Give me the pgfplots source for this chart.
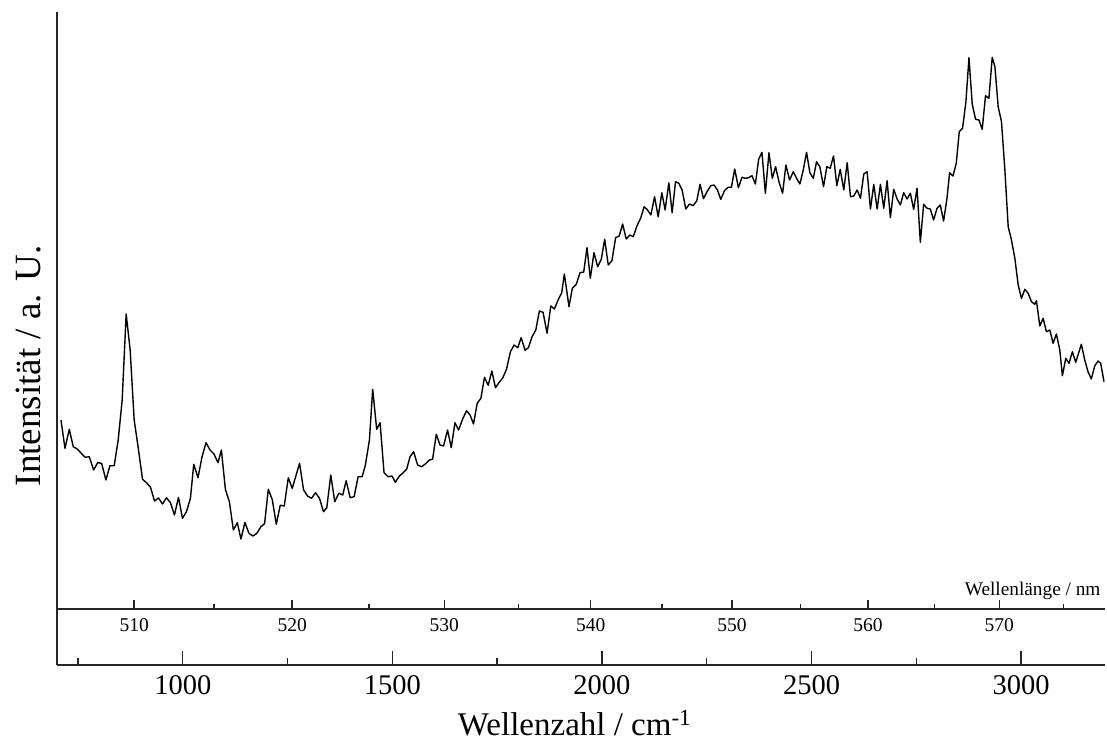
\documentclass[border=0pt]{standalone}
\usepackage{pgfplots}
\pgfplotsset{compat=1.18}
\usepackage{pgfplotstable}
\usepackage{fontspec}
\setmainfont{Liberation Serif}
\pgfplotstableread{
x y
709.5 245
719.0 216.7
729.3 235.7
738.8 218.3
748.3 216
757.9 211.7
767.4 207.7
776.9 208.3
787.4 195
796.9 202.3
806.4 201.7
816.7 185
826.2 199.3
836.4 199.3
846.0 225
855.5 265
865.0 351
874.5 315
884.1 245
894.5 215
904.0 185.7
913.6 182.3
923.1 177.7
932.6 164
942.1 167
951.7 161
961.2 167.3
970.7 162.3
980.2 150
989.8 167.7
999.3 146.7
1008.8 153.3
1018.3 166.7
1026.2 200.7
1036.4 187.3
1046.0 208.3
1055.5 222.3
1065.0 215
1074.5 211
1084.1 202.3
1092.1 215
1101.7 175.7
1111.2 163.3
1120.7 135
1130.2 142.3
1138.8 126
1148.3 142.5
1157.9 131.7
1167.4 129
1176.9 131.7
1186.4 138.3
1195.2 141.3
1204.1 175.8
1213.6 165.3
1223.1 140.8
1232.6 159.8
1242.1 159
1251.7 187.2
1261.2 176.7
1269.8 189
1278.6 201.7
1288.1 175.3
1297.6 169
1307.2 166.7
1316.7 172.3
1326.2 166.7
1335.7 153.3
1343.6 157.3
1353.1 190
1362.6 163.3
1372.2 171.7
1381.7 170
1389.8 184.3
1399.3 167.3
1408.8 168.3
1418.3 188.3
1427.9 188.3
1435.7 200
1445.3 225
1453.1 275.7
1462.6 235.7
1470.7 242.3
1480.2 192.3
1489.8 188.3
1499.3 189
1507.1 182.7
1516.7 189
1524.5 191.7
1534.1 195.7
1542.2 208.3
1550.7 213.3
1560.3 200
1569.8 198.3
1578.6 201
1588.1 205
1596.0 205.7
1604.8 230.7
1613.6 220
1622.2 219
1631.7 235
1640.5 217.3
1649.3 242.3
1657.9 235
1667.4 245.7
1676.9 254.3
1685.7 249.7
1693.6 241
1702.4 261.7
1711.2 266.7
1719.8 287.7
1728.6 279.7
1737.4 294
1746.0 277.3
1754.8 282.7
1763.6 287.3
1772.2 295.7
1781.7 313.3
1790.5 320
1799.3 317.3
1807.2 327.3
1816.7 314.7
1824.5 317.3
1833.3 328.3
1842.2 335
1850.7 354
1859.5 352.7
1869.1 331.7
1877.9 359
1886.5 356
1895.3 365
1904.1 372.3
1910.3 391
1921.4 358.3
1929.3 376.7
1938.8 380.7
1947.6 392.3
1956.5 393
1964.3 417.3
1972.2 386.7
1981.0 412.3
1989.8 398.3
1998.4 405.7
2006.5 425.7
2015.0 400
2023.8 404.3
2032.6 427.3
2041.2 429
2049.3 441
2057.9 426
2066.7 430
2074.6 428.3
2083.4 439
2092.2 446.7
2100.7 458.3
2108.8 455
2116.7 450
2125.5 468.3
2134.1 448.3
2142.9 472.3
2150.7 455
2159.6 482.3
2167.4 452.3
2175.5 483.3
2183.4 481.7
2191.2 475
2200.0 456
2208.8 461
2217.4 459.3
2226.2 464.3
2234.1 480.7
2242.2 466.3
2250.7 473.3
2259.5 479.3
2267.4 480
2275.5 475
2283.4 465.7
2292.2 474.3
2300.7 477.7
2308.8 477.7
2316.7 496
2325.5 477.3
2334.1 487.7
2342.2 486.7
2350.0 487.3
2357.9 489.3
2366.0 481
2373.8 505.7
2381.7 512.7
2389.8 471.7
2398.4 512.3
2406.4 486.7
2414.3 498.3
2422.2 483.3
2431.0 471.7
2438.8 500
2447.6 485
2456.5 493.3
2464.3 486.7
2472.2 481
2480.2 495
2488.1 512.7
2496.0 492.3
2504.1 486.7
2511.9 503.3
2519.8 498.3
2528.6 478.3
2536.5 498.3
2544.5 496.7
2552.4 509
2560.3 479.3
2568.4 495.7
2576.9 475
2585.0 502.3
2592.9 468.3
2600.7 469
2608.8 475
2616.7 466.7
2624.6 491
2632.6 493.3
2640.5 456
2648.4 480.7
2656.5 456
2664.3 480.7
2672.2 456.7
2680.2 484.3
2688.1 447.3
2696.0 475.7
2704.1 466
2711.9 460
2719.8 472.3
2727.9 466
2735.7 471.7
2743.6 455.7
2751.7 476.7
2759.5 422.7
2767.4 460.7
2775.5 456.7
2783.3 456
2791.2 445
2799.3 456.7
2807.1 460
2815.0 444
2823.1 466.7
2829.3 492.3
2837.4 489
2845.2 501.7
2852.4 533.3
2860.2 536.7
2868.3 563.3
2875.5 607.3
2883.3 561
2891.2 545.7
2899.3 545
2907.1 535.7
2915.0 569.3
2923.1 566.7
2931.0 607.7
2937.4 598.3
2945.2 558.3
2953.1 543.3
2961.2 495
2969.1 438.3
2976.9 425
2985.0 406.7
2992.9 380
3000.7 366.7
3008.8 375.7
3016.7 371.7
3024.6 363.3
3032.6 360.7
3036.5 364.3
3044.5 339
3052.4 346.7
3060.3 333.3
3068.4 335
3076.2 321.7
3084.1 331
3092.2 315
3098.4 289.3
3106.4 306.7
3114.3 301.7
3122.2 313.3
3130.2 302.7
3143.6 320.7
3151.7 305
3159.5 293.3
3167.4 286
3175.5 299
3183.4 304
3189.8 301.7
3197.6 283.3
}\spectrum
\begin{document}
\begin{tikzpicture}
\path[use as bounding box] (0pt,0pt) rectangle (1107pt,740pt);
\begin{axis}[
  at={(57pt,75pt)}, anchor=south west,
  width=1048pt, height=653pt, scale only axis,
  xmin=700, xmax=3200, ymin=0, ymax=653,
  axis x line=bottom, axis y line=left,
  axis line style={-, line width=1.4pt, black!85},
  ytick=\empty,
  xtick={1000,1500,2000,2500,3000},
  xticklabels={1000,1500,2000,2500,3000},
  minor xtick={750,1250,1750,2250,2750},
  xtick align=inside,
  major tick length=13.7pt, minor tick length=6.7pt,
  tick style={black!85, line width=1.4pt},
  xticklabel style={font=\fontsize{28.5}{30}\selectfont, inner sep=0pt, yshift=-10pt},
  xlabel={Wellenzahl / cm\textsuperscript{-1}},
  xlabel style={at={(axis description cs:0.4939,0)}, anchor=base, inner sep=0pt, yshift=-70pt, font=\fontsize{33}{36}\selectfont},
  ylabel={Intensität / a. U.},
  ylabel style={at={(axis description cs:-0.0162,0.458)}, anchor=base, inner sep=0pt, font=\fontsize{37}{40}\selectfont},
]
\addplot[black, line width=1.4pt, mark=none, line join=round] table[x=x, y=y] {\spectrum};
\end{axis}
\begin{axis}[
  at={(57pt,131pt)}, anchor=south west,
  width=1048pt, height=20pt, scale only axis, clip=false,
  xmin=700, xmax=3200, ymin=0, ymax=1,
  axis x line=bottom, axis y line=none,
  axis line style={-, line width=1.4pt, black!85},
  xtick={884.0,1261.0,1623.9,1973.3,2310.0,2634.7,2947.9},
  xticklabels={510,520,530,540,550,560,570},
  minor xtick={1074.3,1444.2,1800.2,2143.2,2473.8,2792.7,3100.5},
  xtick align=inside, major tick length=9pt, minor tick length=5pt,
  tick style={black!85, line width=1.4pt},
  xticklabel style={font=\fontsize{19.5}{21}\selectfont, inner sep=0pt, yshift=-9.3pt},
]
\node[anchor=base east, inner sep=0pt, font=\fontsize{19.3}{21}\selectfont, xshift=-4.3pt, yshift=14pt] at (axis description cs:1,0) {Wellenlänge / nm};
\end{axis}
\end{tikzpicture}
\end{document}
